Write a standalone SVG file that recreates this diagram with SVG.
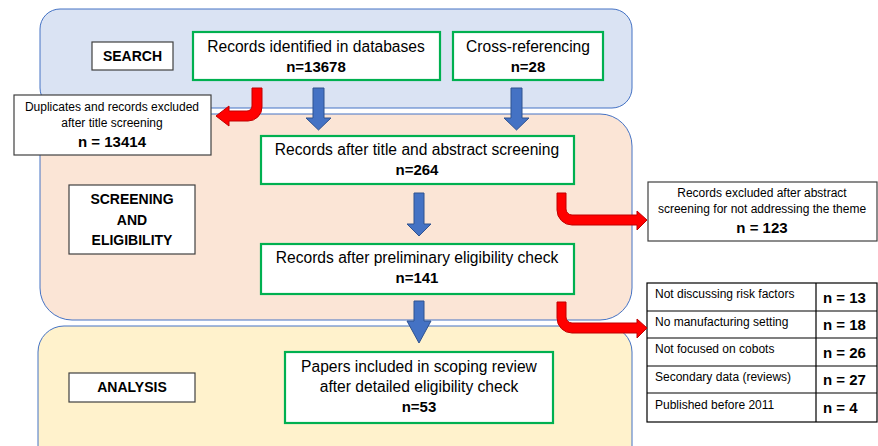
<svg xmlns="http://www.w3.org/2000/svg" width="878" height="446" viewBox="0 0 878 446">
<style>
text{font-family:"Liberation Sans","DejaVu Sans",sans-serif;fill:#000;text-anchor:middle}
.panel{stroke:#4472C4;stroke-width:1}
.gbox{fill:#fff;stroke:#00B050;stroke-width:2.2}
.kbox{fill:#fff;stroke:#404040;stroke-width:1.2}
.m{font-size:15.6px}
.mb{font-size:15px;font-weight:bold}
.s{font-size:12px}
.sb{font-size:15px;font-weight:bold}
.lab{font-size:14px;font-weight:bold}
.t{font-size:12px;text-anchor:start}
.tb{font-size:15px;font-weight:bold;text-anchor:start}
.blue{fill:#4472C4;stroke:#2F528F;stroke-width:1}
.red{fill:#FF0000;stroke:#C00000;stroke-width:1}
</style>
<g id="panels">
<rect class="panel" x="40" y="9" width="592" height="99" rx="20" fill="#DAE3F3"/>
<rect class="panel" x="40" y="114" width="592" height="206" rx="32" fill="#FBE5D6"/>
<rect class="panel" x="38" y="326" width="594" height="150" rx="26" fill="#FFF2CC"/>
</g>
<g id="search-label"><rect class="kbox" x="92" y="42" width="81" height="28"/><text class="lab" x="132.5" y="61">SEARCH</text></g>
<g id="screening-label"><rect class="kbox" x="69" y="185" width="126" height="69"/><text class="lab" x="132" y="204">SCREENING</text><text class="lab" x="132" y="225">AND</text><text class="lab" x="132" y="245">ELIGIBILITY</text></g>
<g id="analysis-label"><rect class="kbox" x="69" y="373" width="126" height="29"/><text class="lab" x="132" y="392">ANALYSIS</text></g>
<g id="databases"><rect class="gbox" x="193" y="32" width="247" height="48"/><text class="m" x="316" y="52">Records identified in databases</text><text class="mb" x="316" y="72">n=13678</text></g>
<g id="crossref"><rect class="gbox" x="453" y="32" width="150" height="48"/><text class="m" x="528" y="52">Cross-referencing</text><text class="mb" x="528" y="72">n=28</text></g>
<g id="duplicates"><rect class="kbox" x="14" y="95" width="197" height="60"/><text class="s" x="112" y="111">Duplicates and records excluded</text><text class="s" x="112" y="127">after title screening</text><text class="sb" x="112" y="147">n = 13414</text></g>
<g id="title-abstract"><rect class="gbox" x="261" y="136" width="313" height="48"/><text class="m" x="417" y="155">Records after title and abstract screening</text><text class="mb" x="417" y="175">n=264</text></g>
<g id="excluded-abstract"><rect class="kbox" x="648" y="182" width="229" height="59"/><text class="s" x="762" y="197">Records excluded after abstract</text><text class="s" x="762" y="213">screening for not addressing the theme</text><text class="sb" x="762" y="233">n = 123</text></g>
<g id="preliminary"><rect class="gbox" x="261" y="244" width="313" height="50"/><text class="m" x="417" y="263">Records after preliminary eligibility check</text><text class="mb" x="417" y="283">n=141</text></g>
<g id="papers"><rect class="gbox" x="285" y="352" width="268" height="71"/><text class="m" x="419" y="372">Papers included in scoping review</text><text class="m" x="419" y="392">after detailed eligibility check</text><text class="mb" x="419" y="412">n=53</text></g>
<g id="exclusion-table">
<rect x="647" y="283" width="230" height="139" fill="#fff" stroke="#000" stroke-width="1.2"/>
<path d="M647 311H877M647 338H877M647 366H877M647 393H877M816 283V422" stroke="#000" stroke-width="1.2" fill="none"/>
<text class="t" x="655" y="298">Not discussing risk factors</text><text class="tb" x="823" y="303">n = 13</text>
<text class="t" x="655" y="326">No manufacturing setting</text><text class="tb" x="823" y="330">n = 18</text>
<text class="t" x="655" y="353">Not focused on cobots</text><text class="tb" x="823" y="358">n = 26</text>
<text class="t" x="655" y="381">Secondary data (reviews)</text><text class="tb" x="823" y="385">n = 27</text>
<text class="t" x="655" y="409">Published before 2011</text><text class="tb" x="823" y="413">n = 4</text>
</g>
<g id="connectors">
<path class="blue" d="M313 88H324V118H331L318.5 130L306 118H313Z"/>
<path class="blue" d="M511 88H522V118H529L516.5 130L504 118H511Z"/>
<path class="blue" d="M414 193H424V224H431L419 236L407 224H414Z"/>
<path class="blue" d="M414 301H424V321H431L419 343L407 321H414Z"/>
<path class="red" d="M252 88H262V107A14 14 0 0 1 248 121H229V126L216 116L229 106V111H247A5 5 0 0 0 252 106Z"/>
<path class="red" d="M557 193H566V209A6 6 0 0 0 572 215H637V211L647 220L637 230V225H572A15 15 0 0 1 557 210Z"/>
<path class="red" d="M557 302H566V317A6 6 0 0 0 572 323H637V319L647 328L637 338V333H572A15 15 0 0 1 557 318Z"/>
</g>
</svg>
